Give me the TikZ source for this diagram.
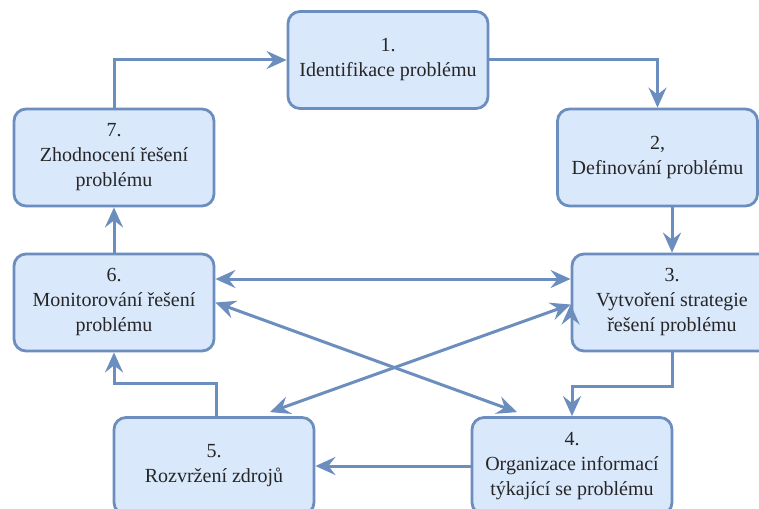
\documentclass[tikz,border=0pt]{standalone}
\usepackage{fontspec}
\setmainfont{Liberation Serif}
\usepackage{tikz}
\usetikzlibrary{arrows.meta}
\definecolor{boxfill}{HTML}{DAE8FC}
\definecolor{boxline}{HTML}{6C8EBF}
\tikzset{main node/.style={rectangle, rounded corners=6pt, draw=boxline, fill=boxfill, line width=1.4pt, minimum width=100pt, minimum height=48.5pt, inner sep=3pt, align=center, text=black!85, font=\rmfamily\fontsize{10}{12.5}\selectfont},}

\begin{document}
\begin{tikzpicture}[x=0.5pt, y=-0.5pt, ->, >={Stealth[length=10pt,width=9pt,inset=3.5pt]}, line width=1.5pt, draw=boxline]
        \useasboundingbox (0,0) rectangle (759,508);
        % Nodes
        \node[main node] (1) at (388,60) {1.\\Identifikace problému};
        \node[main node] (2) at (657.5,157.5) {2,\\Definování problému};
        \node[main node] (3) at (672,302.5) {3.\\Vytvoření strategie\\řešení problému};
        \node[main node] (4) at (572,466) {4.\\Organizace informací\\týkající se problému};
        \node[main node] (5) at (214,466) {5.\\Rozvržení zdrojů};
        \node[main node] (6) at (114,302.5) {6.\\Monitorování řešení\\problému};
        \node[main node] (7) at (114,157.5) {7.\\Zhodnocení řešení\\problému};
        % Paths
        \draw (7.north) |- (1.west);
        \draw (1.east) -| (2.north);
        \draw (2.south -| 3.north) -- (3.north);
        \draw (3.south) -- ++(0,-17pt) -| (4.north);
        \draw ([xshift=1pt]5.north) -- ++(0,16.5pt) -| (6.south);
        \path[draw]
        (6) edge (7)
        (4) edge (5)
        ([yshift=11.75pt]6.east) edge [<->] ([yshift=11.75pt]3.west)
        (6.east) edge [<->] ([xshift=-27.5pt,yshift=2pt]4.north)
        ([yshift=-1pt]3.west) edge [<->] ([xshift=28pt,yshift=2pt]5.north);
    \end{tikzpicture}
\end{document}
